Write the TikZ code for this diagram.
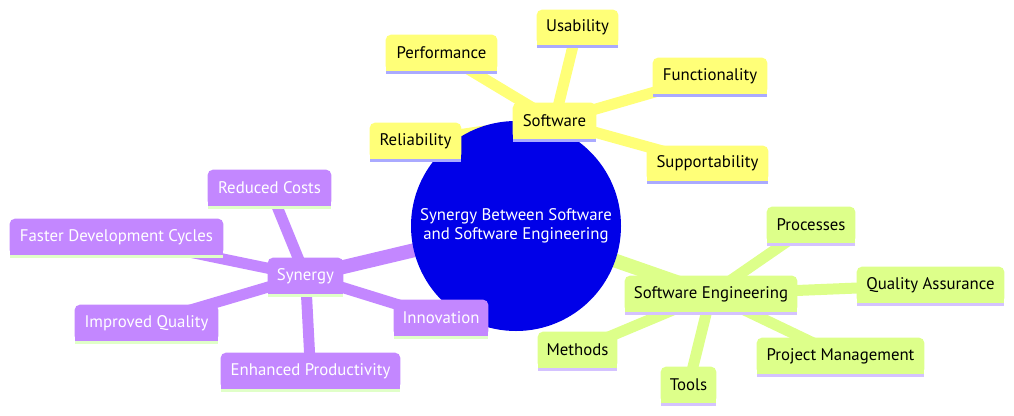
\documentclass[tikz,border=0pt]{standalone}
\usepackage{fontspec}
\setmainfont{PT Sans}
\pgfdeclarelayer{edges}
\pgfdeclarelayer{boxes}
\pgfsetlayers{edges,boxes,main}
\definecolor{yfill}{HTML}{FFFF78}
\definecolor{yline}{HTML}{AAAAFF}
\definecolor{gfill}{HTML}{DDFF8A}
\definecolor{gline}{HTML}{D4C2FF}
\definecolor{pfill}{HTML}{C387FF}
\definecolor{pline}{HTML}{E0FFC8}
\definecolor{rootblue}{HTML}{0000E8}
\tikzset{
  ytxt/.style={text=black},
  gtxt/.style={text=black},
  ptxt/.style={text=white},
  rootedge/.style={line width=10.5pt},
  leafedge/.style={line width=8.25pt},
}
\newcommand\mmbox[7]{%
  \node[#2txt, inner sep=0pt, minimum width={(#5-#3)*0.75pt}, minimum height={(#6-#4-3)*0.75pt}] (#1) at ({(#3+#5)/2},{(#4+#6-3)/2}) {#7};
  \begin{pgfonlayer}{boxes}
    \fill[#2fill, rounded corners=3.75pt] (#1.south west) rectangle (#1.north east);
    \fill[#2fill] ([yshift=3pt]#1.south west) rectangle (#1.south east);
    \fill[#2line] (#1.south west) rectangle ([yshift=-2.25pt]#1.south east);
  \end{pgfonlayer}}
\begin{document}
\begin{tikzpicture}[x=0.75pt,y=-0.75pt,font=\fontsize{12.6pt}{14.5pt}\selectfont]
\useasboundingbox (0,0) rectangle (1014,415);
% root
\node[circle, inner sep=0pt, minimum size=157.5pt, text=white, align=center, font=\fontsize{12.6pt}{14.5pt}\selectfont] (root) at (516,226) {Synergy Between Software\\and Software Engineering};
\begin{pgfonlayer}{boxes}
  \fill[rootblue] (root.center) circle[radius=78.75pt];
\end{pgfonlayer}
% Software branch
\mmbox{sw}{y}{513}{103}{596}{142}{Software}
\mmbox{usab}{y}{537}{10}{618}{48}{Usability}
\mmbox{perf}{y}{386}{35}{497}{74}{Performance}
\mmbox{func}{y}{653}{58}{767}{97}{Functionality}
\mmbox{reli}{y}{370}{123}{461}{162}{Reliability}
\mmbox{supp}{y}{647}{146}{768}{184}{Supportability}
% Synergy branch
\mmbox{syn}{p}{268}{258}{343}{297}{Synergy}
\mmbox{cost}{p}{208}{170}{331}{209}{Reduced Costs}
\mmbox{fast}{p}{10}{219}{223}{258}{Faster Development Cycles}
\mmbox{qual}{p}{75}{305}{218}{344}{Improved Quality}
\mmbox{inno}{p}{394}{300}{488}{339}{Innovation}
\mmbox{prod}{p}{221}{353}{400}{392}{Enhanced Productivity}
% Software Engineering branch
\mmbox{se}{g}{625}{276}{797}{315}{Software Engineering}
\mmbox{proc}{g}{767}{207}{855}{246}{Processes}
\mmbox{qa}{g}{857}{267}{1004}{306}{Quality Assurance}
\mmbox{meth}{g}{538}{332}{617}{371}{Methods}
\mmbox{tools}{g}{661}{367}{716}{406}{Tools}
\mmbox{pm}{g}{757}{338}{924}{377}{Project Management}
% edges
\begin{pgfonlayer}{edges}
  \draw[yfill, rootedge] (root.center) -- (sw.center);
  \draw[pfill, rootedge] (root.center) -- (syn.center);
  \draw[gfill, rootedge] (root.center) -- (se.center);
  \foreach \t in {usab,perf,func,reli,supp}
    \draw[yfill, leafedge] (sw.center) -- (\t.center);
  \foreach \t in {cost,fast,qual,inno,prod}
    \draw[pfill, leafedge] (syn.center) -- (\t.center);
  \foreach \t in {proc,qa,meth,tools,pm}
    \draw[gfill, leafedge] (se.center) -- (\t.center);
\end{pgfonlayer}
\end{tikzpicture}
\end{document}
